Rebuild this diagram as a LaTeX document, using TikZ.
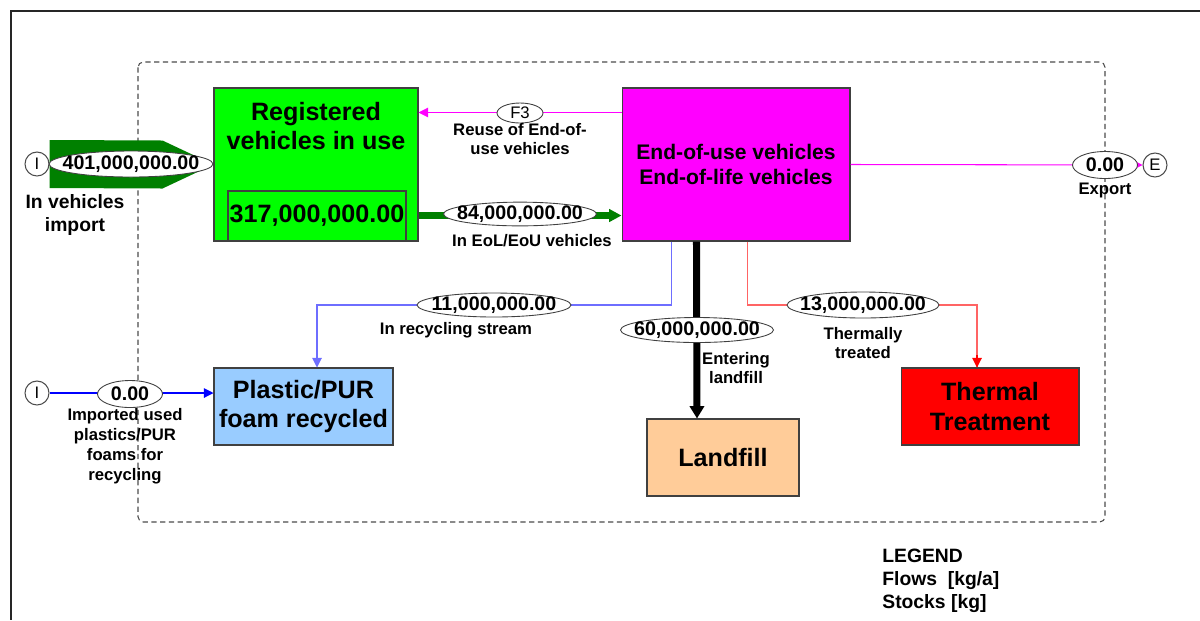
\documentclass[tikz,border=0pt]{standalone}
\usepackage{fontspec}
\setmainfont{Liberation Sans}
\usepackage{xcolor}
\usepackage{tikz}
\usetikzlibrary{calc}
\usetikzlibrary{arrows.meta,positioning}
\usetikzlibrary{shapes.geometric}

\definecolor{stockgreen}{RGB}{0,255,0}
\definecolor{flowgreen}{RGB}{0,128,0}
\definecolor{eolmagenta}{RGB}{255,0,255}
\definecolor{purblue}{RGB}{153,204,255}
\definecolor{lfsand}{RGB}{255,204,153}
\definecolor{recblue}{RGB}{110,110,255}
\definecolor{thermred}{RGB}{255,100,100}

% flow values sit in ellipses sized by hand, not by their text
\newcommand{\fval}[1]{\makebox[0pt]{#1}}

\tikzset{
  stock/.style={draw=black!75,line width=0.6pt,inner sep=0pt,align=center,font=\fontsize{14.3}{17}\selectfont\bfseries},
  stocktext/.style={inner sep=0pt,align=center,font=\fontsize{14.3}{17}\selectfont\bfseries},
  procbox/.style={draw=black!75,line width=0.6pt,inner sep=0pt,align=center,font=\fontsize{12}{14.2}\selectfont\bfseries},
  outside/.style={circle,draw=black!70,line width=0.6pt,fill=white,minimum size=0.48cm,inner sep=0pt,font=\fontsize{9.5}{11}\selectfont},
  flowval/.style={ellipse,draw=black!75,line width=0.5pt,fill=white,inner sep=0pt,font=\fontsize{11.2}{13}\selectfont\bfseries},
  flowlab/.style={align=center,inner sep=0pt,font=\fontsize{9.5}{11.3}\selectfont\bfseries},
  thin flow/.style={line width=0.6pt,-{Triangle[length=5.5pt,width=5.5pt]}},
  sysbound/.style={draw=black!70,line width=0.6pt,dash pattern=on 3pt off 2pt,rounded corners=3pt}
}

\begin{document}
\begin{tikzpicture}[x=0.02cm,y=-0.02cm]
\useasboundingbox (0,0) rectangle (1200,620);
\draw[black!85,line width=0.7pt] (1200,11) -- (11,11) -- (11,620);
\draw[sysbound] (138,62) rectangle (1105,522);

% stocks and processes
\node[stock,fill=stockgreen,minimum width=4.08cm,minimum height=3.06cm] (reg) at (316,164.5) {};
\node[stocktext] (regtitle) at (316,126) {Registered\\vehicles in use};
\node[stock,minimum width=3.56cm,minimum height=1cm] (regstock) at (317,216) {317,000,000.00};
\node[procbox,fill=eolmagenta,minimum width=4.56cm,minimum height=3.06cm] (eol) at (736,164.5) {End-of-use vehicles\\End-of-life vehicles};
\node[stock,fill=purblue,minimum width=3.58cm,minimum height=1.54cm] (pur) at (303.5,406.5) {Plastic/PUR\\foam recycled};
\node[stock,fill=lfsand,minimum width=3.04cm,minimum height=1.54cm] (landfill) at (723,457.5) {Landfill};
\node[stock,fill=red,minimum width=3.56cm,minimum height=1.54cm] (thermal) at (990,406.5) {Thermal\\Treatment};

\node[outside] (imp1) at (37,164) {I};
\node[outside] (imp2) at (37,393) {I};
\node[outside] (exp) at (1155,165) {E};

% flows
\fill[flowgreen] ($(imp1.east)+(0,-24)$) -- ($(reg.west)+(-51,-24)$) -- (reg.west)
  -- ($(reg.west)+(-51,24)$) -- ($(imp1.east)+(0,24)$) -- cycle;
\node[flowval,minimum width=3.28cm,minimum height=0.52cm] (f401) at (131,164) {\fval{401,000,000.00}};
\node[flowlab,font=\fontsize{11}{13}\selectfont\bfseries] (l401) at (75,215) {In vehicles\\import};

\draw[flowgreen,line width=4pt,-{Triangle[length=7pt,width=7pt]}] ($(reg.south east)+(0,-26)$) -- ($(eol.south west)+(0,-26)$);
\node[flowval,minimum width=3.06cm,minimum height=0.46cm] (f84) at (520,214) {\fval{84,000,000.00}};
\node[flowlab] (l84) at (532,241) {In EoL/EoU vehicles};

\draw[eolmagenta,thin flow] ($(eol.north west)+(0,25)$) -- ($(reg.north east)+(0,25)$);
\node[flowval,font=\fontsize{9.5}{11}\selectfont,minimum width=0.92cm,minimum height=0.4cm] (fF3) at (520,113) {\fval{F3}};
\node[flowlab] (lF3) at (520,139) {Reuse of End-of-\\use vehicles};

\draw[eolmagenta,line width=0.6pt,-{Triangle[length=4pt,width=4pt]}] (eol.east) -- (exp.west);
\node[flowval,minimum width=1.3cm,minimum height=0.54cm] (fexp) at (1105,165) {\fval{0.00}};
\node[flowlab] (lexp) at (1105,190) {Export};

\draw[recblue,thin flow] ($(eol.south west)+(50,0)$) |- (494,305) -| ($(pur.north)+(13.5,0)$);
\node[flowval,minimum width=3.08cm,minimum height=0.48cm] (f11) at (494,305) {\fval{11,000,000.00}};
\node[flowlab] (l11) at (456,330) {In recycling stream};

\draw[black,line width=4pt,-{Triangle[length=7pt,width=8pt]}] ($(eol.south west)+(75,0)$) -- ($(landfill.north)+(-26,0)$);
\node[flowval,minimum width=3.06cm,minimum height=0.5cm] (f60) at (697,330) {\fval{60,000,000.00}};
\node[flowlab] (l60) at (736,368) {Entering\\landfill};

\draw[thermred,line width=0.6pt] ($(eol.south west)+(126,0)$) |- (863,305) -| ($(thermal.north)+(-13,0)$);
\draw[red,thin flow] ($(thermal.north)+(-13,-12)$) -- ($(thermal.north)+(-13,0)$);
\node[flowval,minimum width=3.04cm,minimum height=0.52cm] (f13) at (863,305) {\fval{13,000,000.00}};
\node[flowlab] (l13) at (863,343) {Thermally\\treated};

\draw[blue,thin flow] (imp2.east) -- ($(pur.west)+(0,-13.5)$);
\node[flowval,minimum width=1.3cm,minimum height=0.54cm] (fimp) at (130,394) {\fval{0.00}};
\node[flowlab] (limp) at (125,446) {Imported used\\plastics/PUR\\foams for\\recycling};

% legend
\node[anchor=west,align=left,inner sep=0pt,font=\fontsize{11}{13}\selectfont\bfseries] (legend) at (882,581) {LEGEND\\Flows~~[kg/a]\\Stocks [kg]};
\end{tikzpicture}
\end{document}
